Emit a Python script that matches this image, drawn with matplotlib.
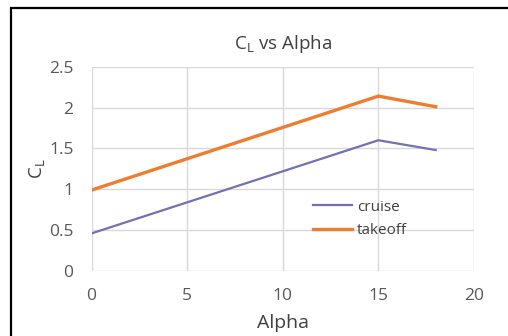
import matplotlib.pyplot as plt
from matplotlib.patches import Rectangle

# angle d'attaque (deg) et coefficient de portance
alpha = [0, 15, 18]
cl_cruise = [0.46, 1.60, 1.48]
cl_takeoff = [0.99, 2.14, 2.01]

plt.rcParams['font.family'] = ['Open Sans', 'DejaVu Sans']

fig = plt.figure(figsize=(5.08, 3.36), dpi=100)
ax = fig.add_axes([91.5/508, 1 - 271/336, (474 - 91.5)/508, (271 - 66.7)/336])

ax.plot(alpha, cl_cruise, color='#7171B3', lw=1.6, label='cruise', solid_joinstyle='round')
ax.plot(alpha, cl_takeoff, color='#ED7D31', lw=2.4, label='takeoff', solid_joinstyle='round')

ax.set_xlim(0, 20)
ax.set_ylim(0, 2.5)
ax.set_xticks([0, 5, 10, 15, 20])
ax.set_yticks([0, 0.5, 1, 1.5, 2, 2.5])
ax.set_yticklabels(['0', '0.5', '1', '1.5', '2', '2.5'])
ax.grid(True, color='#D9D9D9', lw=1)
ax.set_axisbelow(True)
for s in ax.spines.values():
    s.set_visible(False)
ax.tick_params(axis='x', length=0, labelsize=12.5, colors='#595959', pad=12)
ax.tick_params(axis='y', length=0, labelsize=12.5, colors='#595959', pad=13)

ax.set_title(r'C$_\mathregular{L}$ vs Alpha', fontsize=13.5, color='#404040', pad=13)
ax.set_xlabel('Alpha', fontsize=14, color='#404040')
ax.set_ylabel(r'C$_\mathregular{L}$', fontsize=13.5, color='#404040')
ax.xaxis.set_label_coords(0.5, -43/204.3, transform=ax.transAxes)
ax.yaxis.set_label_coords(-44/382.5, 0.5, transform=ax.transAxes)

ax.legend(loc='center left', bbox_to_anchor=(0.542, 0.255), frameon=False,
          fontsize=11, handlelength=2.6, handletextpad=0.3, labelspacing=0.55,
          labelcolor='#404040')

# cadre autour du graphique
fig.patches.append(Rectangle((11/508, -0.2), 1.2, 1.2 - 8/336, transform=fig.transFigure,
                             fill=False, ec='black', lw=1.6))

fig.savefig('out.png', dpi=100)
